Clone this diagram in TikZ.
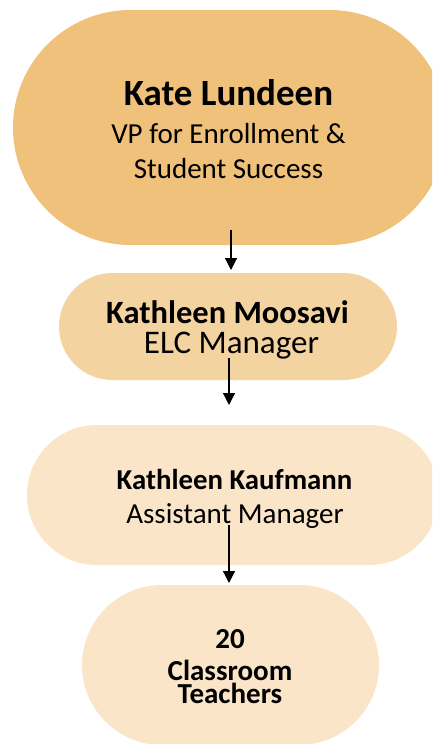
\documentclass[tikz,border=0pt]{standalone}
\usepackage{fontspec}
\setmainfont{Carlito}
\usetikzlibrary{arrows.meta}
\definecolor{boxA}{RGB}{240,193,122}
\definecolor{boxB}{RGB}{243,212,160}
\definecolor{boxC}{RGB}{250,229,200}
\tikzset{
  pill/.style={fill=#1, draw=none, inner sep=0pt, outer sep=0pt},
  lbl/.style={anchor=base, inner sep=0pt, text=black},
  conn/.style={line width=1.2pt, -{Triangle[width=12pt,length=12pt]}},
}
\newcommand{\fs}[1]{\fontsize{#1}{#1}\selectfont}
\begin{document}
\begin{tikzpicture}[x=1pt,y=-1pt]
\useasboundingbox (0,0) rectangle (432,744);
\clip (0,0) rectangle (432,744);
\node[pill=boxA, minimum width=434pt, minimum height=235pt, rounded corners=117.5pt] (k) at (230,127.5) {};
\node[pill=boxB, minimum width=338pt, minimum height=107pt, rounded corners=53.5pt] (m) at (228,326.5) {};
\node[pill=boxC, minimum width=412pt, minimum height=140pt, rounded corners=70pt] (kk) at (233,495) {};
\node[pill=boxC, minimum width=297pt, minimum height=160pt, rounded corners=80pt] (t) at (230.5,665) {};
% texts
\node[lbl] (k1) at (228.5,105) {\fs{37}\bfseries Kate Lundeen};
\node[lbl] (k2) at (228.5,143) {\fs{29}VP for Enrollment \&};
\node[lbl] (k3) at (228.5,178) {\fs{29}Student Success};
\node[lbl] (m1) at (227.5,323) {\fs{32.5}\bfseries Kathleen Moosavi};
\node[lbl] (m2) at (231.5,353) {\fs{33}ELC Manager};
\node[lbl] (kk1) at (234.5,489) {\fs{28.8}\bfseries Kathleen Kaufmann};
\node[lbl] (kk2) at (235,523) {\fs{29}Assistant Manager};
\node[lbl] (t1) at (230,648) {\fs{29}\bfseries 20};
\node[lbl, align=center, font={\fontsize{29}{23}\selectfont\bfseries}] (t2) at (230,703) {Classroom\\Teachers};
% connectors
\coordinate (a1s) at (231,230);
\coordinate (m0) at ([yshift=3pt]m.north);
\coordinate (a2s) at (229,358);
\coordinate (a2e) at (229,405);
\coordinate (a3s) at (229,525);
\coordinate (t0) at ([yshift=2pt]t.north);
\draw[conn] (a1s) -- (a1s |- m0);
\draw[conn] (a2s) -- (a2e);
\draw[conn] (a3s) -- (a3s |- t0);
\end{tikzpicture}
\end{document}
